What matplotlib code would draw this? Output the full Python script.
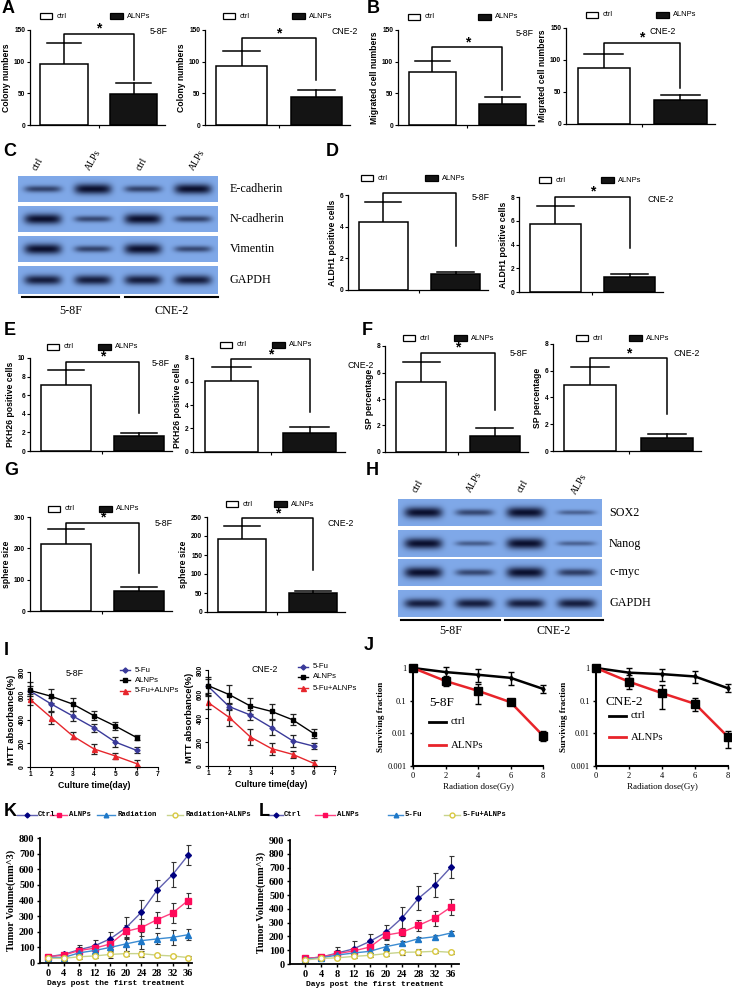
import numpy as np
import matplotlib
matplotlib.use('Agg')
import matplotlib.pyplot as plt
from matplotlib.patches import Rectangle

# ---------------- data ----------------
groups = ['ctrl', 'ALNPs']
colony_58F = [96, 49];      colony_58F_err = [33, 18]
colony_CNE = [93, 44];      colony_CNE_err = [24, 11]
migr_58F = [84, 33];        migr_58F_err = [17, 11]
migr_CNE = [87, 38];        migr_CNE_err = [23, 8]
aldh_58F = [4.31, 1.0];     aldh_58F_err = [1.25, 0.16]
aldh_CNE = [5.73, 1.29];    aldh_CNE_err = [1.54, 0.23]
pkh_58F = [7.1, 1.65];      pkh_58F_err = [1.6, 0.25]
pkh_CNE = [6.07, 1.65];     pkh_CNE_err = [1.13, 0.5]
sp_58F = [5.3, 1.2];        sp_58F_err = [1.5, 0.6]
sp_CNE = [4.95, 0.95];      sp_CNE_err = [1.3, 0.3]
sph_58F = [213, 65];        sph_58F_err = [48, 13]
sph_CNE = [191, 49];        sph_CNE_err = [35, 7]

lanes = ['ctrl', 'ALPs', 'ctrl', 'ALPs']
cell_lines = ['5-8F', 'CNE-2']
emt_proteins = ['E-cadherin', 'N-cadherin', 'Vimentin', 'GAPDH']
emt_bands = [[0.45, 1.0, 0.45, 0.95],
             [1.0, 0.4, 1.0, 0.45],
             [1.0, 0.45, 1.0, 0.4],
             [0.8, 0.8, 0.8, 0.8]]
stem_proteins = ['SOX2', 'Nanog', 'c-myc', 'GAPDH']
stem_bands = [[1.0, 0.4, 1.0, 0.15],
              [1.0, 0.2, 1.0, 0.15],
              [1.0, 0.4, 1.0, 0.5],
              [0.8, 0.8, 0.8, 0.8]]

mtt_days = [1, 2, 3, 4, 5, 6]
mtt_58F_5fu = [640, 530, 430, 330, 210, 140];    mtt_58F_5fu_err = [40, 55, 40, 35, 45, 25]
mtt_58F_alnp = [645, 595, 530, 432, 345, 248];   mtt_58F_alnp_err = [70, 60, 55, 40, 35, 20]
mtt_58F_combo = [570, 415, 262, 152, 93, 28];    mtt_58F_combo_err = [45, 50, 30, 45, 25, 28]
mtt_CNE_5fu = [665, 495, 425, 320, 210, 165];    mtt_CNE_5fu_err = [60, 30, 45, 65, 50, 25]
mtt_CNE_alnp = [670, 595, 500, 455, 385, 270];   mtt_CNE_alnp_err = [75, 80, 70, 60, 45, 35]
mtt_CNE_combo = [530, 405, 242, 145, 97, 22];    mtt_CNE_combo_err = [55, 70, 65, 50, 30, 25]
mtt_series = ['5-Fu', 'ALNPs', '5-Fu+ALNPs']

dose = [0, 2, 4, 6, 8]
surv_58F_ctrl = [1.0, 0.75, 0.62, 0.5, 0.23]
surv_58F_ctrl_lo = [1.0, 0.5, 0.38, 0.3, 0.17]
surv_58F_ctrl_hi = [1.0, 1.05, 0.95, 0.75, 0.3]
surv_58F_alnp = [1.0, 0.4, 0.2, 0.09, 0.0085]
surv_58F_alnp_lo = [1.0, 0.28, 0.08, 0.08, 0.006]
surv_58F_alnp_hi = [1.0, 0.55, 0.33, 0.1, 0.012]
surv_CNE_ctrl = [1.0, 0.72, 0.65, 0.55, 0.24]
surv_CNE_ctrl_lo = [1.0, 0.5, 0.4, 0.35, 0.18]
surv_CNE_ctrl_hi = [1.0, 1.0, 0.95, 0.8, 0.32]
surv_CNE_alnp = [1.0, 0.38, 0.17, 0.08, 0.0078]
surv_CNE_alnp_lo = [1.0, 0.22, 0.055, 0.05, 0.0035]
surv_CNE_alnp_hi = [1.0, 0.6, 0.3, 0.12, 0.012]

tv_days = [0, 4, 8, 12, 16, 20, 24, 28, 32, 36]
K_names = ['Ctrl', 'ALNPs', 'Radiation', 'Radiation+ALNPs']
K_ctrl = [40, 55, 85, 110, 155, 225, 325, 465, 565, 690]; K_ctrl_err = [10, 10, 30, 40, 45, 70, 80, 65, 80, 65]
K_alnp = [40, 50, 80, 95, 122, 202, 227, 277, 320, 400];  K_alnp_err = [10, 10, 25, 25, 30, 40, 55, 50, 65, 45]
K_rad = [35, 35, 65, 80, 100, 122, 143, 154, 164, 181];   K_rad_err = [10, 10, 20, 25, 30, 45, 55, 35, 50, 35]
K_combo = [30, 30, 40, 45, 55, 60, 60, 50, 45, 35];       K_combo_err = [10, 10, 15, 15, 20, 15, 20, 10, 8, 8]
L_names = ['Ctrl', 'ALNPs', '5-Fu', '5-Fu+ALNPs']
L_ctrl = [40, 50, 80, 110, 164, 230, 336, 476, 575, 703]; L_ctrl_err = [10, 10, 40, 55, 55, 50, 80, 87, 87, 78]
L_alnp = [40, 50, 75, 95, 123, 210, 230, 280, 333, 413];  L_alnp_err = [10, 10, 25, 25, 25, 33, 30, 40, 55, 60]
L_5fu = [35, 45, 65, 80, 92, 126, 150, 184, 198, 225];    L_5fu_err = [10, 10, 15, 15, 15, 20, 15, 15, 15, 15]
L_combo = [30, 40, 45, 55, 63, 75, 85, 87, 92, 85];       L_combo_err = [10, 10, 10, 10, 15, 20, 20, 25, 10, 10]

# ---------------- figure ----------------
W, H = 732, 992
SANS = ['Liberation Sans', 'DejaVu Sans']
SERIF = ['Liberation Serif', 'DejaVu Serif']
MONO = ['Liberation Mono', 'DejaVu Sans Mono']
plt.rcParams['font.family'] = SANS

fig = plt.figure(figsize=(W / 100, H / 100), dpi=100)
fig.patch.set_facecolor('white')
ov = fig.add_axes([0, 0, 1, 1])
ov.set_autoscale_on(False)
ov.set_xlim(0, W); ov.set_ylim(H, 0); ov.axis('off')


def add_ax(x0, x1, ytop, ybot):
    ax = fig.add_axes([x0 / W, 1 - ybot / H, (x1 - x0) / W, (ybot - ytop) / H])
    ax.set_facecolor('none')
    return ax


def letter(s, x, y):
    ov.text(x, y, s, fontsize=13, fontweight='bold', ha='left', va='top', family=SANS)


def bar_panel(box, ymax, ystep, means, errs, ylabel, br_top, br_right, tag, tag_xy,
              leg_y, leg_xc, leg_xa):
    ax = add_ax(*box)
    x = np.arange(len(groups))
    ax.bar(x, means, width=0.68, color=['white', '#141414'], edgecolor='black',
           linewidth=1.1, zorder=2)
    for xi, m, e in zip(x, means, errs):
        ax.plot([xi, xi], [m, m + e], color='black', lw=1.1, zorder=1)
        ax.plot([xi - 0.25, xi + 0.25], [m + e, m + e], color='black', lw=1.1, zorder=1)
    ax.plot([0, 0, 1, 1], [means[0] + errs[0], br_top, br_top, br_right],
            color='black', lw=1.1, clip_on=False)
    ax.annotate('*', (0.5, br_top), xytext=(0, -1.5), textcoords='offset points',
                ha='center', va='bottom', fontsize=10, fontweight='bold')
    ax.set_xlim(-0.49, 1.45)
    ax.set_ylim(0, ymax)
    ax.set_yticks(np.arange(0, ymax + ystep / 2, ystep))
    ax.set_xticks([0.5]); ax.set_xticklabels([''])
    for s in ['top', 'right']:
        ax.spines[s].set_visible(False)
    for s in ['left', 'bottom']:
        ax.spines[s].set_linewidth(0.9)
    ax.tick_params(length=2.5, width=0.8, labelsize=4.8, pad=1)
    for lb in ax.get_yticklabels():
        lb.set_fontweight('bold')
    ax.set_ylabel(ylabel, fontsize=6.2, fontweight='bold', labelpad=2)
    ov.text(tag_xy[0], tag_xy[1], tag, fontsize=6.3, ha='left', va='center')
    ov.add_patch(Rectangle((leg_xc, leg_y - 3), 12, 6, fc='white', ec='black', lw=0.9))
    ov.text(leg_xc + 17, leg_y, groups[0], fontsize=5.4, va='center')
    ov.add_patch(Rectangle((leg_xa, leg_y - 3), 13, 6, fc='#141414', ec='black', lw=0.9))
    ov.text(leg_xa + 17, leg_y, groups[1], fontsize=5.4, va='center')
    return ax


# A
letter('A', 2, 0)
bar_panel((30, 165, 30, 125), 150, 50, colony_58F, colony_58F_err, 'Colony numbers',
          144, 71, cell_lines[0], (150, 32), 16, 40, 110)
bar_panel((205, 350, 30, 125), 150, 50, colony_CNE, colony_CNE_err, 'Colony numbers',
          137, 71, cell_lines[1], (332, 32), 16, 223, 292)
# B
letter('B', 367, 0)
bar_panel((398, 534, 30, 125), 150, 50, migr_58F, migr_58F_err, 'Migrated cell numbers',
          123, 55, cell_lines[0], (516, 33), 17, 408, 478)
bar_panel((566, 715, 28, 124), 150, 50, migr_CNE, migr_CNE_err, 'Migrated cell numbers',
          127, 56, cell_lines[1], (650, 32), 15, 586, 656)
# D
letter('D', 326, 143)
bar_panel((348, 488, 195, 290), 6, 2, aldh_58F, aldh_58F_err, 'ALDH1 positive cells',
          6.1, 2.78, cell_lines[0], (472, 198), 178, 361, 425)
bar_panel((519, 663, 197, 292), 8, 2, aldh_CNE, aldh_CNE_err, 'ALDH1 positive cells',
          8.03, 3.68, cell_lines[1], (648, 200), 180, 539, 601)
# E
letter('E', 4, 322)
bar_panel((30, 172, 358, 451), 10, 2, pkh_58F, pkh_58F_err, 'PKH26 positive cells',
          9.6, 4.05, cell_lines[0], (152, 363), 347, 47, 98)
bar_panel((193, 345, 358, 452), 8, 2, pkh_CNE, pkh_CNE_err, 'PKH26 positive cells',
          7.9, 3.43, cell_lines[1], (347, 365), 345, 220, 272)
# F
letter('F', 362, 322)
bar_panel((385, 528, 346, 452), 8, 2, sp_58F, sp_58F_err, 'SP percentage',
          7.5, 3.2, cell_lines[0], (510, 353), 338, 403, 454)
bar_panel((553, 701, 344, 451), 8, 2, sp_CNE, sp_CNE_err, 'SP percentage',
          6.96, 2.76, cell_lines[1], (674, 353), 338, 576, 629)
# G
letter('G', 4, 462)
bar_panel((30, 172, 517, 611), 300, 100, sph_58F, sph_58F_err, 'sphere size',
          282, 121, cell_lines[0], (155, 523), 509, 48, 99)
bar_panel((207, 345, 517, 612), 250, 50, sph_CNE, sph_CNE_err, 'sphere size',
          247, 110, cell_lines[1], (328, 524), 504, 226, 274)


# ---------------- western blots ----------------
def blot_row(intens, x0, x1, ytop, ybot, scale=4):
    w, h = x1 - x0, ybot - ytop
    nx, ny = int(w * scale), int(h * scale)
    n = len(intens)
    xs = (np.arange(nx) + 0.5) / nx * n
    ys = (np.arange(ny) + 0.5) / ny
    X, Y = np.meshgrid(xs, ys)
    d = np.zeros_like(X)
    for i, v in enumerate(intens):
        a = 0.37
        b = 0.07 + 0.13 * v
        prof = np.exp(-np.abs((X - (i + 0.5)) / a) ** 5) * np.exp(-((Y - 0.5) / b) ** 2)
        d = np.maximum(d, min(1.0, 0.35 + 0.7 * v) * prof)
    bg = np.array([0.50, 0.66, 0.91])
    dark = np.array([0.04, 0.06, 0.18])
    img = bg * (1 - d[..., None]) + dark * d[..., None]
    ov.imshow(img, extent=[x0, x1, ybot, ytop], aspect='auto', interpolation='bilinear')


def blot_panel(bands, proteins, x0, x1, rows, lab_x, lane_pos, line_y, line_segs, text_y):
    for intens, (yt, yb), name in zip(bands, rows, proteins):
        blot_row(intens, x0, x1, yt, yb)
        ov.text(lab_x, (yt + yb) / 2, name, family=SERIF, fontsize=8.7, va='center', ha='left')
    for lab, (lx, ly) in zip(lanes, lane_pos):
        ov.text(lx, ly, lab, family=SERIF, fontsize=7, rotation=60, rotation_mode='anchor',
                ha='left', va='bottom')
    for name, (sx0, sx1) in zip(cell_lines, line_segs):
        ov.plot([sx0, sx1], [line_y, line_y], color='black', lw=1.5)
        ov.text((sx0 + sx1) / 2, text_y, name, family=SERIF, fontsize=8.7, ha='center', va='center')


letter('C', 3, 143)
blot_panel(emt_bands, emt_proteins, 18, 218, [(176, 202), (206, 232), (236, 262), (266, 294)],
           230, [(38, 172), (92, 172), (142, 172), (196, 172)], 297, [(22, 119), (125, 218)], 311)
letter('H', 366, 462)
blot_panel(stem_bands, stem_proteins, 398, 602, [(499, 526), (530, 557), (559, 586), (590, 617)],
           609, [(418, 494), (473, 494), (523, 494), (578, 496)], 620, [(401, 500), (505, 603)], 631)


# ---------------- I : MTT ----------------
def mtt_panel(box, s5fu, s5fu_e, salnp, salnp_e, scombo, scombo_e, tag, tag_xy, leg_x, leg_y):
    ax = add_ax(*box)
    styles = [('#3a3a9a', 'D', 2.6), ('black', 's', 3.2), ('#e6262c', '^', 3.6)]
    for (c, mk, ms), vals, errs in zip(styles, [s5fu, salnp, scombo], [s5fu_e, salnp_e, scombo_e]):
        ax.errorbar(mtt_days, vals, yerr=errs, color=c, marker=mk, ms=ms, lw=1.0,
                    ecolor='#222222', elinewidth=0.9, capsize=2, capthick=0.9, clip_on=False)
    ax.set_xlim(1, 7); ax.set_ylim(0, 800)
    ax.set_xticks(range(1, 8)); ax.set_yticks(range(0, 801, 200))
    for s in ['top', 'right']:
        ax.spines[s].set_visible(False)
    ax.tick_params(length=2, width=0.8, labelsize=4.8, pad=1)
    for lb in ax.get_yticklabels():
        lb.set_rotation(90); lb.set_va('center'); lb.set_fontweight('bold')
    for lb in ax.get_xticklabels():
        lb.set_fontweight('bold')
    ax.set_xlabel('Culture time(day)', fontsize=6.3, fontweight='bold', labelpad=2)
    ax.set_ylabel('MTT absorbance(%)', fontsize=6.8, fontweight='bold', labelpad=2)
    ov.text(tag_xy[0], tag_xy[1], tag, fontsize=6.3, ha='left', va='center')
    for (c, mk, ms), name, yy in zip(styles, mtt_series, leg_y):
        ov.plot([leg_x, leg_x + 10], [yy, yy], color=c, lw=1.0)
        ov.plot([leg_x + 5], [yy], color=c, marker=mk, ms=ms)
        ov.text(leg_x + 15, yy, name, fontsize=5.6, va='center')


letter('I', 4, 642)
mtt_panel((30, 158, 672, 767), mtt_58F_5fu, mtt_58F_5fu_err, mtt_58F_alnp, mtt_58F_alnp_err,
          mtt_58F_combo, mtt_58F_combo_err, cell_lines[0], (66, 673), 120, [670, 680, 691])
mtt_panel((208, 335, 670, 766), mtt_CNE_5fu, mtt_CNE_5fu_err, mtt_CNE_alnp, mtt_CNE_alnp_err,
          mtt_CNE_combo, mtt_CNE_combo_err, cell_lines[1], (252, 670), 298, [667, 677, 688])


# ---------------- J : survival ----------------
def surv_panel(box, c, clo, chi, a, alo, ahi, tag, tag_xy, leg_x, leg_y):
    ax = add_ax(*box)
    ax.set_yscale('log')
    c = np.array(c); a = np.array(a)
    ax.errorbar(dose, c, yerr=[c - np.array(clo), np.array(chi) - c], color='black', lw=1.8,
                marker='d', ms=2.5, ecolor='black', elinewidth=1.0, capsize=2, clip_on=False, zorder=3)
    ax.errorbar(dose, a, yerr=[a - np.array(alo), np.array(ahi) - a], color='#e8242a', lw=1.8,
                marker='s', ms=5.5, mfc='black', mec='black', ecolor='black', elinewidth=1.0,
                capsize=2, clip_on=False, zorder=4)
    ax.set_xlim(0, 8); ax.set_ylim(0.001, 1)
    ax.set_xticks([0, 2, 4, 6, 8])
    ax.set_yticks([0.001, 0.01, 0.1, 1])
    ax.set_yticklabels(['0.001', '0.01', '0.1', '1'])
    ax.minorticks_off()
    for s in ['top', 'right']:
        ax.spines[s].set_visible(False)
    for s in ['left', 'bottom']:
        ax.spines[s].set_linewidth(1.5)
    ax.tick_params(length=2.5, width=1.0, labelsize=6, pad=2)
    for lb in ax.get_xticklabels() + ax.get_yticklabels():
        lb.set_family(SERIF)
    ax.set_xlabel('Radiation dose(Gy)', family=SERIF, fontsize=6.5, labelpad=2)
    ax.set_ylabel('Surviving fraction', family=SERIF, fontsize=6.5, fontweight='bold', labelpad=2)
    ov.text(tag_xy[0], tag_xy[1], tag, family=SERIF, fontsize=9.5, ha='left', va='center')
    ov.plot([leg_x, leg_x + 17], [leg_y[0], leg_y[0]], color='black', lw=2)
    ov.text(leg_x + 22, leg_y[0], groups[0], family=SERIF, fontsize=7.8, va='center')
    ov.plot([leg_x, leg_x + 17], [leg_y[1], leg_y[1]], color='#e8242a', lw=2)
    ov.text(leg_x + 22, leg_y[1], groups[1], family=SERIF, fontsize=7.8, va='center')


letter('J', 364, 637)
surv_panel((413, 543, 668, 766), surv_58F_ctrl, surv_58F_ctrl_lo, surv_58F_ctrl_hi,
           surv_58F_alnp, surv_58F_alnp_lo, surv_58F_alnp_hi, cell_lines[0], (429, 703),
           429, [722, 745])
surv_panel((596, 728, 668, 766), surv_CNE_ctrl, surv_CNE_ctrl_lo, surv_CNE_ctrl_hi,
           surv_CNE_alnp, surv_CNE_alnp_lo, surv_CNE_alnp_hi, cell_lines[1], (606, 702),
           609, [716, 737])


# ---------------- K / L : tumour volume ----------------
tv_styles = [('#6060b0', '#000080', 'D', 3.0, 'full'),
             ('#ff4080', '#ff0a5a', 's', 4.0, 'full'),
             ('#3c8cd2', '#1e78c8', '^', 3.8, 'full'),
             ('#c8d48c', '#d8c840', 'o', 4.0, 'none')]


def tv_panel(box, xlim, ymax, series, errs, names, leg_pos):
    ax = add_ax(*box)
    for (lc, mc, mk, ms, fill), vals, e in zip(tv_styles, series, errs):
        mfc = mc if fill == 'full' else 'white'
        ax.errorbar(tv_days, vals, yerr=e, color=lc, marker=mk, ms=ms, mfc=mfc, mec=mc,
                    lw=1.0, ecolor='#333333', elinewidth=0.8, capsize=1.8, capthick=0.8,
                    clip_on=False)
    ax.set_xlim(*xlim); ax.set_ylim(0, ymax)
    ax.set_xticks(tv_days); ax.set_yticks(range(0, ymax + 1, 100))
    for s in ['top', 'right']:
        ax.spines[s].set_visible(False)
    for s in ['left', 'bottom']:
        ax.spines[s].set_linewidth(1.3)
    ax.tick_params(length=2, width=1.0, labelsize=7.5, pad=2)
    for lb in ax.get_xticklabels() + ax.get_yticklabels():
        lb.set_family(SERIF); lb.set_fontweight('bold')
    ax.set_xlabel('Days post the first treatment', family=MONO, fontweight='bold',
                  fontsize=5.8, labelpad=2)
    ax.set_ylabel('Tumor Volume(mm^3)', family=SERIF, fontweight='bold', fontsize=7.5, labelpad=2)
    for (lc, mc, mk, ms, fill), name, (lx0, lx1, tx) in zip(tv_styles, names, leg_pos):
        y = 815
        ov.plot([lx0, lx1], [y, y], color=lc, lw=1.0)
        ov.plot([(lx0 + lx1) / 2], [y], marker=mk, ms=ms - 0.5, color=mc,
                mfc=(mc if fill == 'full' else 'white'), mec=mc)
        ov.text(tx, y, name, family=MONO, fontweight='bold', fontsize=5.2, va='center')


letter('K', 4, 803)
tv_panel((40, 192, 838, 963), (-2.06, 37.0), 800, [K_ctrl, K_alnp, K_rad, K_combo],
         [K_ctrl_err, K_alnp_err, K_rad_err, K_combo_err], K_names,
         [(17, 37, 38), (50, 67, 69), (97, 115, 118), (167, 183, 185)])
letter('L', 259, 803)
tv_panel((290, 459, 840, 964), (-3.7, 38.0), 900, [L_ctrl, L_alnp, L_5fu, L_combo],
         [L_ctrl_err, L_alnp_err, L_5fu_err, L_combo_err], L_names,
         [(268, 283, 284), (315, 335, 337), (388, 403, 405), (444, 460, 463)])

ov.set_xlim(0, W); ov.set_ylim(H, 0)
fig.savefig('out.png', dpi=100, facecolor='white')
